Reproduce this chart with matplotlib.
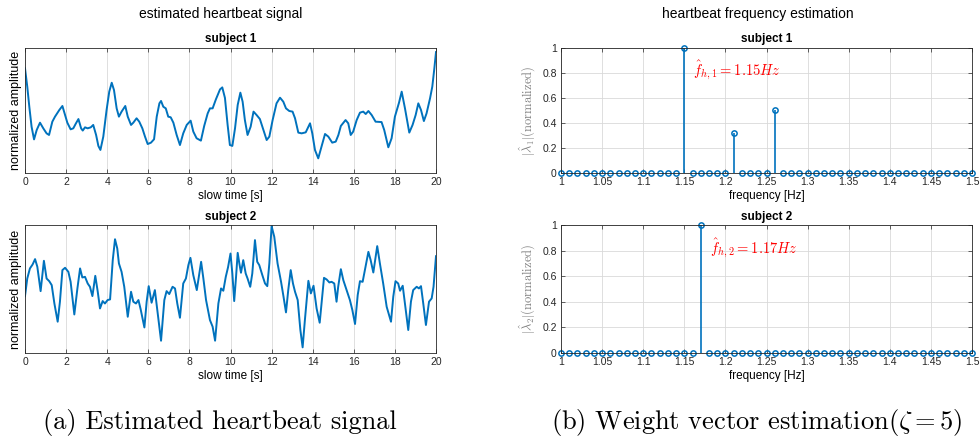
import matplotlib
matplotlib.use('Agg')
import matplotlib.pyplot as plt
import numpy as np

################################################################################
# Data
################################################################################

# estimated heartbeat signal, subject 1 (time [s], normalized amplitude 0..1)
t1 = [0.0, 0.11, 0.21, 0.32, 0.44, 0.57, 0.73, 0.89, 1.05, 1.17, 1.33, 1.46,
      1.67, 1.82, 1.95, 2.06, 2.22, 2.35, 2.48, 2.6, 2.73, 2.81, 2.92, 3.05,
      3.2, 3.32, 3.46, 3.57, 3.67, 3.81, 3.97, 4.1, 4.22, 4.33, 4.46, 4.57,
      4.7, 4.88, 5.0, 5.16, 5.27, 5.43, 5.56, 5.71, 5.84, 5.97, 6.13, 6.28,
      6.41, 6.54, 6.62, 6.73, 6.85, 6.97, 7.09, 7.22, 7.38, 7.54, 7.7, 7.87,
      8.06, 8.19, 8.35, 8.56, 8.72, 8.89, 9.0, 9.13, 9.29, 9.49, 9.6, 9.73,
      9.86, 9.97, 10.09, 10.22, 10.35, 10.48, 10.59, 10.7, 10.83, 10.98,
      11.12, 11.27, 11.43, 11.6, 11.76, 11.89, 12.05, 12.24, 12.41, 12.57,
      12.7, 12.86, 13.02, 13.14, 13.3, 13.46, 13.66, 13.87, 13.98, 14.11,
      14.27, 14.43, 14.6, 14.76, 14.95, 15.12, 15.25, 15.37, 15.6, 15.73,
      15.85, 15.97, 16.14, 16.3, 16.46, 16.58, 16.71, 16.87, 17.06, 17.35,
      17.48, 17.68, 17.84, 18.0, 18.2, 18.33, 18.49, 18.7, 18.86, 19.01,
      19.14, 19.27, 19.41, 19.54, 19.71, 19.82, 19.92, 20.0]
s1 = [0.836, 0.69, 0.53, 0.371, 0.27, 0.345, 0.403, 0.358, 0.318, 0.305,
      0.411, 0.451, 0.504, 0.536, 0.464, 0.403, 0.35, 0.358, 0.398, 0.432,
      0.358, 0.34, 0.366, 0.358, 0.366, 0.385, 0.305, 0.218, 0.186, 0.292,
      0.504, 0.65, 0.721, 0.663, 0.517, 0.451, 0.491, 0.536, 0.451, 0.385,
      0.403, 0.438, 0.411, 0.358, 0.292, 0.233, 0.244, 0.271, 0.451, 0.557,
      0.576, 0.53, 0.517, 0.451, 0.446, 0.403, 0.305, 0.225, 0.318, 0.385,
      0.419, 0.332, 0.279, 0.26, 0.377, 0.477, 0.517, 0.517, 0.589, 0.668,
      0.684, 0.6, 0.385, 0.225, 0.218, 0.358, 0.544, 0.642, 0.57, 0.424,
      0.305, 0.371, 0.491, 0.464, 0.432, 0.345, 0.265, 0.292, 0.424, 0.557,
      0.602, 0.57, 0.517, 0.496, 0.491, 0.438, 0.324, 0.318, 0.326, 0.398,
      0.318, 0.186, 0.119, 0.212, 0.313, 0.292, 0.244, 0.252, 0.305, 0.377,
      0.424, 0.398, 0.305, 0.332, 0.424, 0.483, 0.491, 0.472, 0.496, 0.464,
      0.411, 0.408, 0.345, 0.207, 0.279, 0.451, 0.562, 0.65, 0.517, 0.324,
      0.385, 0.464, 0.557, 0.504, 0.416, 0.477, 0.597, 0.69, 0.836, 0.965]

# estimated heartbeat signal, subject 2
t2 = [0.0, 0.11, 0.24, 0.37, 0.49, 0.6, 0.76, 0.92, 1.05, 1.18, 1.3, 1.43,
      1.59, 1.7, 1.82, 1.95, 2.11, 2.22, 2.4, 2.55, 2.68, 2.79, 2.92, 3.05,
      3.16, 3.28, 3.42, 3.54, 3.65, 3.78, 3.89, 4.02, 4.14, 4.27, 4.38, 4.49,
      4.57, 4.7, 4.83, 5.0, 5.16, 5.27, 5.4, 5.52, 5.63, 5.81, 5.92, 6.02,
      6.16, 6.32, 6.45, 6.62, 6.78, 6.89, 7.02, 7.18, 7.3, 7.41, 7.54, 7.7,
      7.83, 7.95, 8.05, 8.19, 8.36, 8.57, 8.68, 8.81, 9.0, 9.13, 9.25, 9.41,
      9.54, 9.65, 9.77, 9.88, 10.0, 10.09, 10.18, 10.27, 10.35, 10.43, 10.51,
      10.62, 10.74, 10.83, 10.96, 11.06, 11.19, 11.3, 11.4, 11.55, 11.68,
      11.79, 11.89, 12.0, 12.13, 12.29, 12.46, 12.58, 12.7, 12.81, 12.93,
      13.04, 13.14, 13.27, 13.4, 13.51, 13.62, 13.79, 13.91, 14.04, 14.19,
      14.34, 14.43, 14.55, 14.68, 14.81, 14.92, 15.05, 15.16, 15.24, 15.37,
      15.49, 15.65, 15.81, 15.93, 16.06, 16.19, 16.3, 16.43, 16.54, 16.71,
      16.82, 16.95, 17.06, 17.14, 17.27, 17.43, 17.6, 17.81, 17.92, 18.03,
      18.16, 18.25, 18.38, 18.49, 18.65, 18.78, 18.89, 19.06, 19.17, 19.27,
      19.38, 19.51, 19.66, 19.79, 19.88, 20.0]
s2 = [0.444, 0.582, 0.661, 0.692, 0.734, 0.674, 0.483, 0.721, 0.582, 0.561,
      0.53, 0.386, 0.243, 0.4, 0.648, 0.666, 0.634, 0.556, 0.3, 0.504, 0.661,
      0.59, 0.595, 0.543, 0.517, 0.444, 0.603, 0.478, 0.347, 0.405, 0.386,
      0.413, 0.418, 0.726, 0.89, 0.817, 0.7, 0.634, 0.517, 0.282, 0.478, 0.4,
      0.386, 0.413, 0.339, 0.198, 0.4, 0.522, 0.392, 0.491, 0.321, 0.094,
      0.413, 0.483, 0.46, 0.517, 0.504, 0.386, 0.274, 0.543, 0.582, 0.687,
      0.744, 0.608, 0.491, 0.713, 0.582, 0.413, 0.256, 0.204, 0.094, 0.386,
      0.504, 0.486, 0.595, 0.67, 0.778, 0.621, 0.405, 0.595, 0.783, 0.7,
      0.627, 0.726, 0.621, 0.582, 0.517, 0.621, 0.883, 0.713, 0.687, 0.608,
      0.543, 0.522, 0.7, 0.992, 0.909, 0.7, 0.556, 0.439, 0.316, 0.491, 0.648,
      0.543, 0.478, 0.413, 0.178, 0.042, 0.256, 0.564, 0.465, 0.525, 0.347,
      0.235, 0.386, 0.587, 0.574, 0.551, 0.556, 0.543, 0.4, 0.517, 0.655,
      0.569, 0.491, 0.413, 0.334, 0.225, 0.452, 0.561, 0.556, 0.648, 0.791,
      0.726, 0.629, 0.752, 0.836, 0.7, 0.543, 0.36, 0.243, 0.439, 0.561,
      0.543, 0.486, 0.525, 0.386, 0.178, 0.4, 0.491, 0.517, 0.504, 0.522,
      0.386, 0.217, 0.4, 0.426, 0.517, 0.757]

# weight vector estimation, frequency grid 1.00 .. 1.50 Hz
freq = np.round(np.arange(1.0, 1.5001, 0.01), 2)
peaks1 = {1.15: 1.0, 1.21: 0.32, 1.26: 0.505}
peaks2 = {1.17: 1.0}
lam1 = np.array([peaks1.get(f, 0.0) for f in freq])
lam2 = np.array([peaks2.get(f, 0.0) for f in freq])

f_est = ['1.15', '1.17']
f_pos = [1.15, 1.17]

################################################################################
# Plot settings
################################################################################

plt.rcParams['font.family'] = ['Liberation Sans', 'DejaVu Sans']
plt.rcParams['mathtext.fontset'] = 'cm'

BLUE = '#0072BD'
AXC = '#262626'

fig = plt.figure(figsize=(9.8, 4.43), dpi=100)

W = 411 / 980
rows = [(1 - 173.3 / 443, 125.6 / 443), (1 - 352.7 / 443, 127.5 / 443)]
x_left = 25 / 980
x_right = 561 / 980


def style_axes(ax):
    for sp in ax.spines.values():
        sp.set_color(AXC)
        sp.set_linewidth(0.6)
    ax.tick_params(direction='in', length=3, width=0.5, colors=AXC,
                   labelsize=7.5, pad=3, top=True, right=True)
    ax.grid(True, color='#d9d9d9', linewidth=0.6)
    ax.set_axisbelow(True)


################################################################################
# (a) heartbeat signal
################################################################################

for i, (t, s) in enumerate([(t1, s1), (t2, s2)]):
    ax = fig.add_axes([x_left, rows[i][0], W, rows[i][1]])
    ax.plot(t, s, color=BLUE, linewidth=1.4, solid_joinstyle='round')
    ax.set_xlim(0, 20)
    ax.set_ylim(0, 1)
    ax.set_xticks(range(0, 21, 2))
    ax.set_yticks([])
    style_axes(ax)
    ax.set_title('subject %d' % (i + 1), fontsize=8.5, fontweight='bold', pad=4)
    ax.set_xlabel('slow time [s]', fontsize=8.5, labelpad=2)
    ax.set_ylabel('normalized amplitude', fontsize=9, labelpad=2)

################################################################################
# (b) frequency estimation
################################################################################

for i, lam in enumerate([lam1, lam2]):
    ax = fig.add_axes([x_right, rows[i][0], W, rows[i][1]])
    ml, sl, bl = ax.stem(freq, lam, basefmt=' ')
    plt.setp(sl, color=BLUE, linewidth=1.2)
    plt.setp(ml, color=BLUE, marker='o', markersize=3.8, markerfacecolor='none',
             markeredgewidth=1.1, clip_on=False)
    ax.set_xlim(1, 1.5)
    ax.set_ylim(0, 1)
    ax.set_xticks(np.round(np.arange(1.0, 1.5001, 0.05), 2))
    ax.set_xticklabels(['1', '1.05', '1.1', '1.15', '1.2', '1.25', '1.3',
                        '1.35', '1.4', '1.45', '1.5'])
    ax.set_yticks([0, 0.2, 0.4, 0.6, 0.8, 1])
    ax.set_yticklabels(['0', '0.2', '0.4', '0.6', '0.8', '1'])
    style_axes(ax)
    ax.set_title('subject %d' % (i + 1), fontsize=8.5, fontweight='bold', pad=4)
    ax.set_xlabel('frequency [Hz]', fontsize=8.5, labelpad=2)
    ax.set_ylabel(r'$|\hat{\lambda}_%d|(\mathrm{normalized})$' % (i + 1),
                  fontsize=9, color='#808080', labelpad=3)
    ax.text(f_pos[i] + 0.011, 0.82,
            r'$\hat{f}_{h,%d} = %s Hz$' % (i + 1, f_est[i]),
            color='red', fontsize=10.5, va='center', ha='left')

################################################################################
# titles and captions
################################################################################

fig.text(221 / 980, 1 - 14 / 443, 'estimated heartbeat signal',
         fontsize=10, ha='center', va='center')
fig.text(758 / 980, 1 - 14 / 443, 'heartbeat frequency estimation',
         fontsize=10, ha='center', va='center')

fig.text(220 / 980, 1 - 422 / 443, '(a) Estimated heartbeat signal',
         fontsize=19, family='cmr10', ha='center', va='center')
fig.text(757 / 980, 1 - 422 / 443, r'(b) Weight vector estimation($\zeta = 5$)',
         fontsize=19, family='cmr10', ha='center', va='center')

plt.savefig('out.png', dpi=100)
